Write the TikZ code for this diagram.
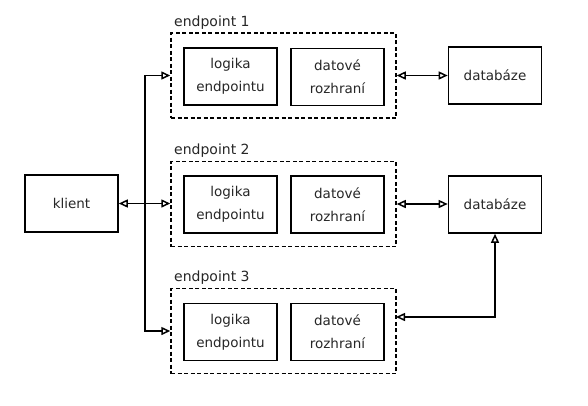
\documentclass[tikz,border=0pt]{standalone}
\usepackage{fontspec}
\setmainfont{DejaVu Sans}
\usetikzlibrary{arrows.meta,calc}
\begin{document}
\begin{tikzpicture}[x=1pt,y=-1pt,
  box/.style={draw,line width=1.6pt,minimum width=93pt,minimum height=57pt,inner sep=0pt,align=center,font=\fontsize{13.5}{23}\selectfont,text=black!85},
  group/.style={draw,line width=1.5pt,dash pattern=on 4pt off 2.5pt,minimum width=225pt,minimum height=85pt,inner sep=0pt},
  lbl/.style={anchor=base west,inner sep=0pt,font=\fontsize{14}{16}\selectfont,text=black!85},
  conn/.style={line width=1.5pt,{Triangle[open,length=9pt,width=8pt]}-{Triangle[open,length=9pt,width=8pt]}},
  conn1/.style={line width=1.5pt,-{Triangle[open,length=9pt,width=8pt]}}]
\useasboundingbox (0,0) rectangle (588,405);
% groups
\node[group] (ep1) at (283.5,75.5) {};
\node[group] (ep2) at (283.5,204) {};
\node[group] (ep3) at (283.5,331) {};
\node[lbl] (l1) at (174,26) {endpoint 1};
\node[lbl] (l2) at (174,154) {endpoint 2};
\node[lbl] (l3) at (174,281) {endpoint 3};
% inner boxes
\node[box] (log1) at (230.5,76.5) {logika\\endpointu};
\node[box] (dat1) at (337.5,77) {datové\\rozhraní};
\node[box] (log2) at (230.5,204.5) {logika\\endpointu};
\node[box] (dat2) at (337.5,204.5) {datové\\rozhraní};
\node[box] (log3) at (230.5,332) {logika\\endpointu};
\node[box] (dat3) at (337.5,332) {datové\\rozhraní};
\node[box] (db1) at (495,75.5) {databáze};
\node[box] (db2) at (495,204.5) {databáze};
\node[box] (kl) at (71.5,203.5) {klient};
% connectors
\coordinate (bus) at (145,204);
\coordinate (e3) at (396,317);
\draw[conn] (kl.east) -- (kl.east -| ep2.west);
\draw[conn1] (bus) |- (ep1.west);
\draw[conn1] (bus) |- (ep3.west);
\draw[conn] (ep1.east) -- (ep1.east -| db1.west);
\draw[conn] (ep2.east) -- (ep2.east -| db2.west);
\draw[conn] (e3) -| (db2.south);
\end{tikzpicture}
\end{document}
